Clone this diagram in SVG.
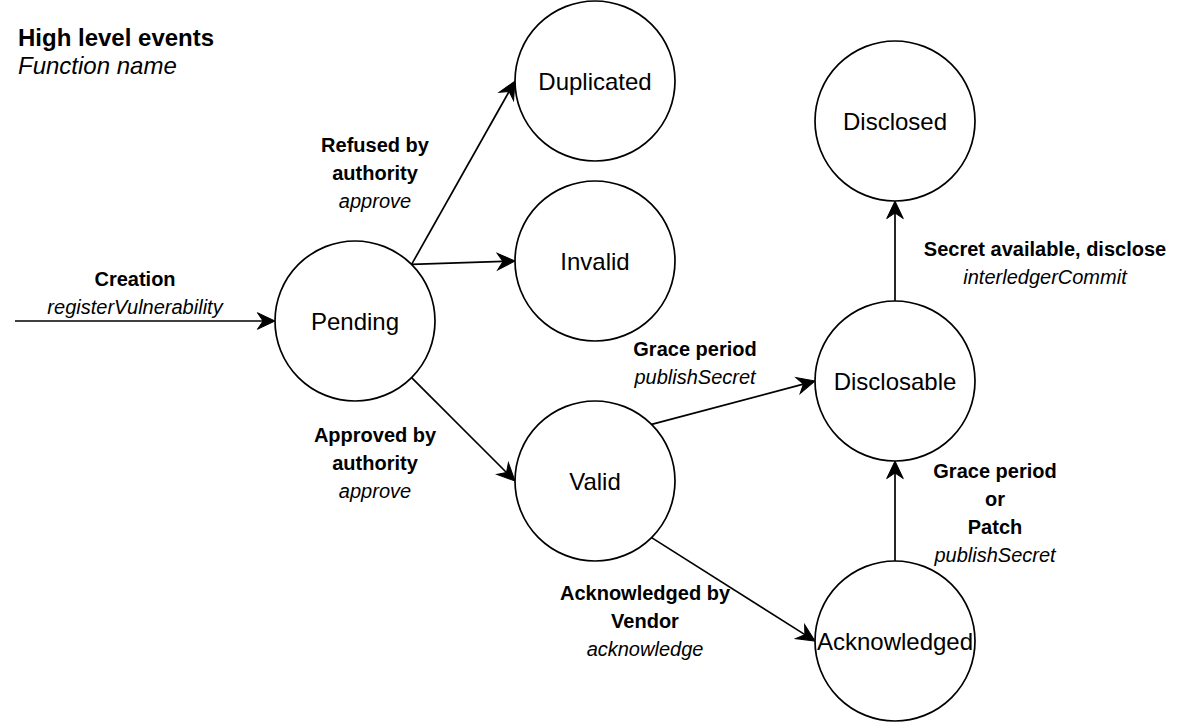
<svg xmlns="http://www.w3.org/2000/svg" width="1186" height="722" viewBox="0 0 1186 722">
<style>
text{font-family:"Liberation Sans",Arial,Helvetica,sans-serif;fill:#000}
.node circle{fill:#fff;stroke:#000;stroke-width:1.7}
.node text{font-size:24px;text-anchor:middle}
.lbl{font-size:20px;text-anchor:middle}
.b{font-weight:bold}
.i{font-style:italic}
.edges line{stroke:#000;stroke-width:1.7;marker-end:url(#arr)}
</style>
<defs>
<marker id="arr" markerUnits="userSpaceOnUse" viewBox="-7 -10 20 20" refX="0" refY="0" markerWidth="20" markerHeight="20" orient="auto">
<path d="M12,0 L-5.6,-8.3 L0,0 L-5.6,8.3 Z" fill="#000" stroke="#000" stroke-width="1" stroke-linejoin="miter"/>
</marker>
</defs>
<rect width="1186" height="722" fill="#fff"/>
<g id="title">
<text x="18" y="46" class="b" style="font-size:24px">High level events</text>
<text x="18" y="74" class="i" style="font-size:24px">Function name</text>
</g>
<g class="edges" id="connectors">
<line x1="15" y1="321" x2="263" y2="321"/>
<line x1="411.6" y1="264.4" x2="509.1" y2="91.5"/>
<line x1="411.6" y1="264.4" x2="503" y2="261.4"/>
<line x1="411.6" y1="377.6" x2="506.5" y2="472.5"/>
<line x1="651.6" y1="424.4" x2="803.4" y2="384.1"/>
<line x1="651.6" y1="537.6" x2="804.9" y2="634.6"/>
<line x1="895" y1="561" x2="895" y2="473"/>
<line x1="895" y1="301" x2="895" y2="213"/>
</g>
<g id="labels">
<text class="lbl b" x="135" y="286">Creation</text>
<text class="lbl i" x="135" y="314">registerVulnerability</text>
<text class="lbl b" x="375" y="152">Refused by</text>
<text class="lbl b" x="375" y="180">authority</text>
<text class="lbl i" x="375" y="208">approve</text>
<text class="lbl b" x="375" y="442">Approved by</text>
<text class="lbl b" x="375" y="470">authority</text>
<text class="lbl i" x="375" y="498">approve</text>
<text class="lbl b" x="695" y="356">Grace period</text>
<text class="lbl i" x="695" y="384">publishSecret</text>
<text class="lbl b" x="645" y="600">Acknowledged by</text>
<text class="lbl b" x="645" y="628">Vendor</text>
<text class="lbl i" x="645" y="656">acknowledge</text>
<text class="lbl b" x="1045" y="256">Secret available, disclose</text>
<text class="lbl i" x="1045" y="284">interledgerCommit</text>
<text class="lbl b" x="995" y="478">Grace period</text>
<text class="lbl b" x="995" y="506">or</text>
<text class="lbl b" x="995" y="534">Patch</text>
<text class="lbl i" x="995" y="562">publishSecret</text>
</g>
<g id="pending" class="node"><circle cx="355" cy="321" r="80"/><text x="355" y="329.5">Pending</text></g>
<g id="duplicated" class="node"><circle cx="595" cy="81" r="80"/><text x="595" y="89.5">Duplicated</text></g>
<g id="invalid" class="node"><circle cx="595" cy="261" r="80"/><text x="595" y="269.5">Invalid</text></g>
<g id="valid" class="node"><circle cx="595" cy="481" r="80"/><text x="595" y="489.5">Valid</text></g>
<g id="disclosed" class="node"><circle cx="895" cy="121" r="80"/><text x="895" y="129.5">Disclosed</text></g>
<g id="disclosable" class="node"><circle cx="895" cy="381" r="80"/><text x="895" y="389.5">Disclosable</text></g>
<g id="acknowledged" class="node"><circle cx="895" cy="641" r="80"/><text x="895" y="649.5">Acknowledged</text></g>
</svg>
